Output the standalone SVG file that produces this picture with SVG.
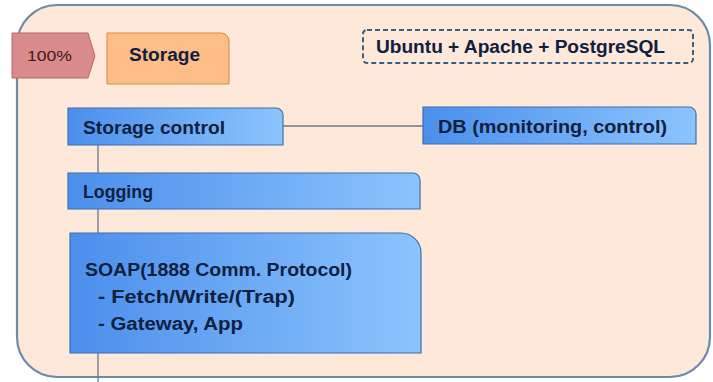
<svg xmlns="http://www.w3.org/2000/svg" width="713" height="382" viewBox="0 0 713 382">
<defs>
<linearGradient id="blue" x1="0" y1="0" x2="1" y2="0">
<stop offset="0" stop-color="#4b8fec"/>
<stop offset="1" stop-color="#8cc4fd"/>
</linearGradient>
<style>
.t{font-family:"Liberation Sans",Arial,sans-serif;font-weight:bold;font-size:18px;fill:#102040}
.bx{fill:url(#blue);stroke:#3d6fae;stroke-width:1.2}
.ln{stroke:#6b7888;stroke-width:1.3;fill:none}
</style>
</defs>
<rect width="713" height="382" fill="#ffffff"/>
<g id="container">
<path d="M57,5 H670 A40,40 0 0 1 710,45 V337 A40,40 0 0 1 670,377 H57 A40,40 0 0 1 17,337 V45 A40,40 0 0 1 57,5 Z" fill="#fde8da" stroke="#6d8aaa" stroke-width="2.2"/>
</g>
<g id="connectors">
<line class="ln" x1="283" y1="126" x2="423" y2="126"/>
<line class="ln" x1="98" y1="145" x2="98" y2="173"/>
<line class="ln" x1="98" y1="209" x2="98" y2="233"/>
<line class="ln" x1="98" y1="353" x2="98" y2="382"/>
</g>
<g id="percent">
<path d="M12,33 H88 L95,56 L88,78 H12 Z" fill="#d98b8c" stroke="#b86668" stroke-width="1"/>
<text x="27" y="61" style="font-family:'Liberation Sans',Arial,sans-serif;font-size:15px;fill:#3a1a1a" textLength="45" lengthAdjust="spacingAndGlyphs">100%</text>
</g>
<g id="storage">
<path d="M107,33 H221 A8,8 0 0 1 229,41 V84 H107 Z" fill="#fcbe86" stroke="#cf8d40" stroke-width="1"/>
<text class="t" x="129" y="61" textLength="71" lengthAdjust="spacingAndGlyphs">Storage</text>
</g>
<g id="stack">
<path d="M367,30 H689 A4,4 0 0 1 693,34 V59 A4,4 0 0 1 689,63 H367 A4,4 0 0 1 363,59 V34 A4,4 0 0 1 367,30 Z" fill="none" stroke="#3f5f80" stroke-width="2" stroke-dasharray="5,3"/>
<text class="t" x="376" y="53" textLength="289" lengthAdjust="spacingAndGlyphs">Ubuntu + Apache + PostgreSQL</text>
</g>
<g id="storage-control">
<path class="bx" d="M68,108 H276 A7,7 0 0 1 283,115 V145 H68 Z"/>
<text class="t" x="83" y="134" textLength="142" lengthAdjust="spacingAndGlyphs">Storage control</text>
</g>
<g id="db">
<path class="bx" d="M423,107 H689 A7,7 0 0 1 696,114 V144 H423 Z"/>
<text class="t" x="438" y="133" textLength="229" lengthAdjust="spacingAndGlyphs">DB (monitoring, control)</text>
</g>
<g id="logging">
<path class="bx" d="M68,173 H413 A7,7 0 0 1 420,180 V209 H68 Z"/>
<text class="t" x="83" y="198" textLength="70" lengthAdjust="spacingAndGlyphs">Logging</text>
</g>
<g id="soap">
<path class="bx" d="M70,233 H401 A20,20 0 0 1 421,253 V353 H70 Z"/>
<text class="t" x="85" y="276" textLength="267" lengthAdjust="spacingAndGlyphs">SOAP(1888 Comm. Protocol)</text>
<text class="t" x="98" y="303" textLength="197" lengthAdjust="spacingAndGlyphs">- Fetch/Write/(Trap)</text>
<text class="t" x="98" y="330" textLength="145" lengthAdjust="spacingAndGlyphs">- Gateway, App</text>
</g>
</svg>
